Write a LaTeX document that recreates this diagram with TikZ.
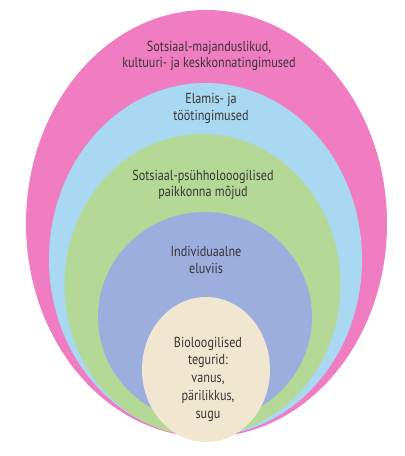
\documentclass[tikz,border=0pt]{standalone}
\usepackage{fontspec}
\setmainfont[FakeStretch=0.84]{PT Sans}
\definecolor{cpink}{HTML}{F07DC2}
\definecolor{cblue}{HTML}{A9D8F2}
\definecolor{cgreen}{HTML}{B4D896}
\definecolor{cpurple}{HTML}{9CAEDD}
\definecolor{cbeige}{HTML}{F1E6CF}
\definecolor{ctext}{HTML}{3A3535}
\begin{document}
\begin{tikzpicture}[x=1pt,y=-1pt,
  lbl/.style={align=center,text=ctext,font=\fontsize{14.5}{16.5}\selectfont,inner sep=0pt},
  lblb/.style={lbl,font=\fontsize{14.5}{17.8}\selectfont}]
\useasboundingbox (0,0) rectangle (405,456);
\fill[cpink]   (206.5,223.5) ellipse [x radius=180.5pt, y radius=213.5pt];
\fill[cblue]   (205.5,259.5) ellipse [x radius=156.5pt, y radius=176.5pt];
\fill[cgreen]  (202.5,285)   ellipse [x radius=138pt, y radius=151pt];
\fill[cpurple] (205,317)     ellipse [x radius=107pt, y radius=105pt];
\fill[cbeige]  (206,369.5)   ellipse [x radius=64pt, y radius=72.5pt];
\node[lbl] (t1) at (209,56) {Sotsiaal-majanduslikud,\\kultuuri- ja keskkonnatingimused};
\node[lbl] (t2) at (211,108.5) {Elamis- ja\\töötingimused};
\node[lbl] (t3) at (203,185) {Sotsiaal-psühholooogilised\\paikkonna mõjud};
\node[lbl] (t4) at (206,260) {Individuaalne\\eluviis};
\node[lblb] (t5) at (208,379) {Bioloogilised\\tegurid:\\vanus,\\pärilikkus,\\sugu};
\end{tikzpicture}
\end{document}
